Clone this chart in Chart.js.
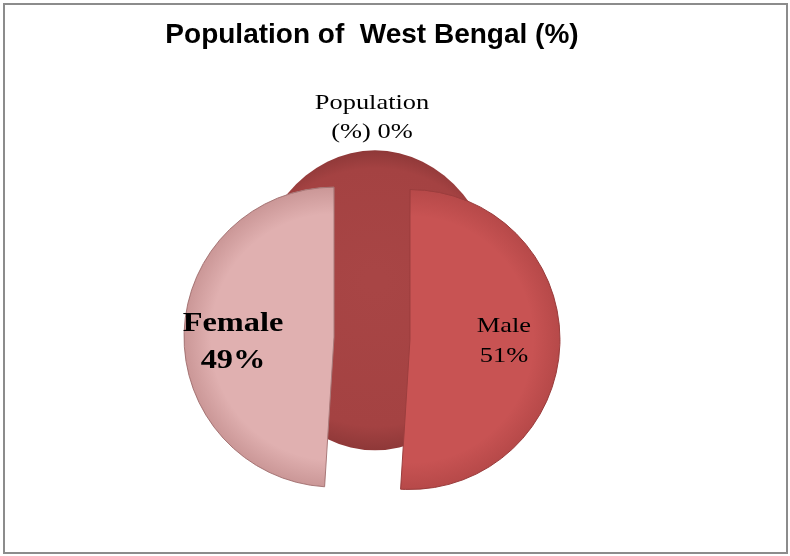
<!DOCTYPE html>
<html>
<head>
<meta charset="utf-8">
<script src="https://cdn.jsdelivr.net/npm/chart.js@4"></script>
<style>
  html, body { margin: 0; padding: 0; background: #fff; }
  #wrap { position: relative; width: 790px; height: 556px; }
  #frame { position: absolute; left: 3px; top: 3px; width: 781px; height: 547px; border: 2px solid #8c8c8c; pointer-events: none; }
</style>
</head>
<body>
<div id="wrap">
  <canvas id="chart" width="790" height="556"></canvas>
  <div id="frame"></div>
</div>
<script>
var CATEGORIES = ['Population (%)', 'Male', 'Female'];
var VALUES = [0, 51, 49];
var LABEL_LINES = [['Population', '(%) 0%'], ['Male', '51%'], ['Female', '49%']];
var COLORS = ['#a64343', '#c85353', '#e0b0b0'];

var EXPLODE = 38;

// back disc seen behind the exploded halves
var backDisc = {
    id: 'backDisc',
    beforeDatasetsDraw: function (chart) {
        var arc = chart.getDatasetMeta(0).data[1];
        if (!arc) return;
        var r = arc.outerRadius;
        var cx = arc.x + 3, cy = arc.y - 38;
        var ctx = chart.ctx;
        ctx.save();
        var g = ctx.createRadialGradient(cx, cy - 20, 10, cx, cy, r);
        g.addColorStop(0, '#a84545');
        g.addColorStop(0.85, '#a44242');
        g.addColorStop(1, '#8e3838');
        ctx.fillStyle = g;
        ctx.beginPath();
        ctx.ellipse(cx, cy, r * 0.83, r, 0, 0, Math.PI * 2);
        ctx.fill();
        ctx.restore();
    }
};

// pull each slice straight out along its middle angle, with a soft rim shade
var explode = {
    id: 'explode',
    beforeDatasetDraw: function (chart, args) {
        var ctx = chart.ctx;
        args.meta.data.forEach(function (arc) {
            if (arc.circumference === 0) return;
            var mid = (arc.startAngle + arc.endAngle) / 2;
            ctx.save();
            ctx.translate(Math.cos(mid) * EXPLODE, Math.sin(mid) * EXPLODE);
            arc.draw(ctx);
            ctx.beginPath();
            ctx.moveTo(arc.x, arc.y);
            ctx.arc(arc.x, arc.y, arc.outerRadius, arc.startAngle, arc.endAngle);
            ctx.closePath();
            ctx.clip();
            var g = ctx.createRadialGradient(arc.x, arc.y, arc.outerRadius * 0.82, arc.x, arc.y, arc.outerRadius);
            g.addColorStop(0, 'rgba(90,20,20,0)');
            g.addColorStop(1, 'rgba(90,20,20,0.16)');
            ctx.fillStyle = g;
            ctx.fill();
            ctx.restore();
        });
        return false;
    }
};

// slice labels, inside for real slices, above for the empty one
var sliceLabels = {
    id: 'sliceLabels',
    afterDatasetsDraw: function (chart) {
        var ctx = chart.ctx;
        var meta = chart.getDatasetMeta(0);
        var fonts = ['22px "Liberation Serif", "DejaVu Serif", serif', '22px "Liberation Serif", "DejaVu Serif", serif', 'bold 27px "Liberation Serif", "DejaVu Serif", serif'];
        var lineH = [29, 30, 37];
        var dx = [0, -2, -5];
        var dy = [0, -1, 8];
        ctx.save();
        ctx.fillStyle = '#000';
        ctx.textAlign = 'center';
        ctx.textBaseline = 'middle';
        meta.data.forEach(function (arc, i) {
            var mid = (arc.startAngle + arc.endAngle) / 2;
            var dist = VALUES[i] > 0 ? EXPLODE + 0.64 * arc.outerRadius : arc.outerRadius + 71;
            var x = arc.x + Math.cos(mid) * dist + dx[i];
            var y = arc.y + Math.sin(mid) * dist + dy[i];
            var lines = LABEL_LINES[i];
            ctx.font = fonts[i];
            lines.forEach(function (t, k) {
                ctx.save();
                ctx.translate(x, y + (k - (lines.length - 1) / 2) * lineH[i]);
                ctx.scale(1.2, 1);
                ctx.fillText(t, 0, 0);
                ctx.restore();
            });
        });
        ctx.restore();
    }
};

new Chart(document.getElementById('chart'), {
    type: 'pie',
    data: {
        labels: CATEGORIES,
        datasets: [{
            data: VALUES,
            backgroundColor: COLORS,
            borderColor: ['#8e3838', '#9c3e3e', '#a97a7a'],
            borderWidth: 1,
            hoverOffset: 0
        }]
    },
    options: {
        responsive: false,
        animation: false,
        radius: 150,
        layout: { padding: { left: 0, right: 46, top: 0, bottom: 0 } },
        plugins: {
            legend: { display: false },
            tooltip: { enabled: false },
            title: {
                display: true,
                text: 'Population of  West Bengal (%)',
                color: '#000',
                font: { family: '"Liberation Sans", Arial, sans-serif', size: 28, weight: 'bold' },
                padding: { top: 18, bottom: 69 }
            }
        }
    },
    plugins: [backDisc, explode, sliceLabels]
});
</script>
</body>
</html>
